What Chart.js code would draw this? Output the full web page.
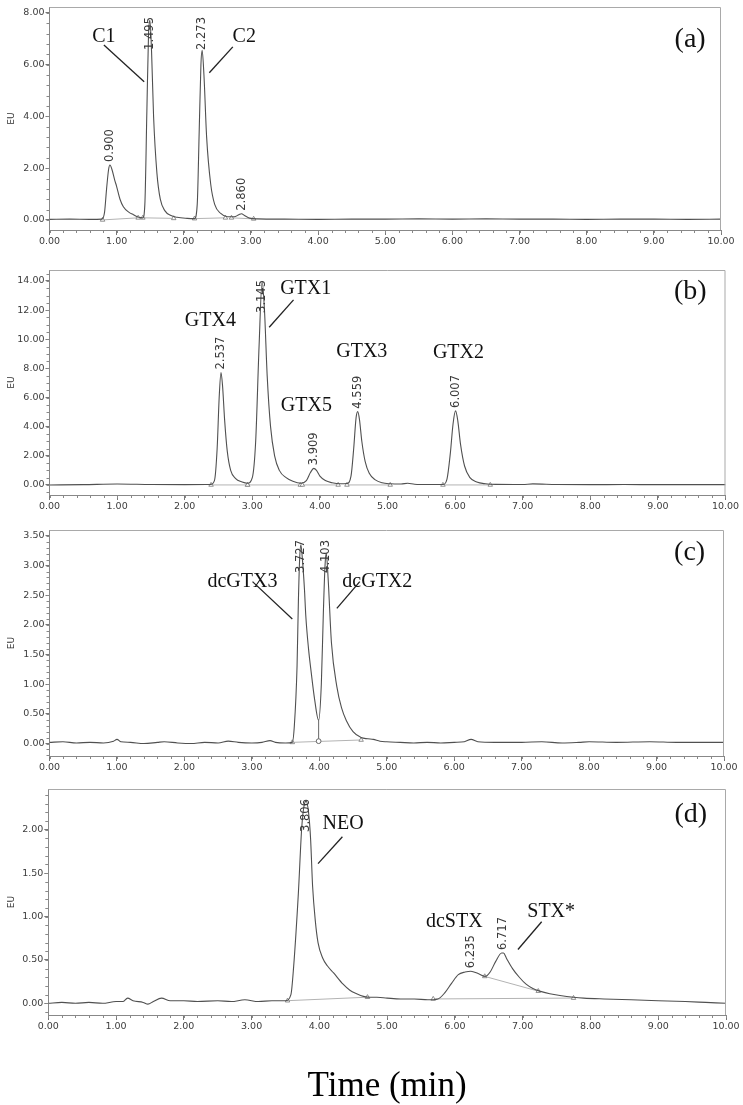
<!DOCTYPE html>
<html>
<head>
<meta charset="utf-8">
<script src="https://cdn.jsdelivr.net/npm/chart.js@4.4.1/dist/chart.umd.min.js"></script>
<style>
  html, body { margin: 0; padding: 0; background: #fff; overflow: hidden; }
  .panel { position: absolute; left: 0; }
</style>
</head>
<body>
<div class="panel" style="top:0px"><canvas id="chartA" width="743" height="255"></canvas></div>
<div class="panel" style="top:255px"><canvas id="chartB" width="743" height="265"></canvas></div>
<div class="panel" style="top:520px"><canvas id="chartC" width="743" height="261"></canvas></div>
<div class="panel" style="top:780px"><canvas id="chartD" width="743" height="328"></canvas></div>
<script>
// x axis (minutes) shared by all four runs
const xTicks = [0, 1, 2, 3, 4, 5, 6, 7, 8, 9, 10];

// (a) C1 / C2 standard
const timeA = [0, 0.3, 0.6, 0.78, 0.82, 0.85, 0.88, 0.9, 0.93, 0.97, 1.0, 1.05, 1.1, 1.18, 1.25, 1.33, 1.39,
  1.42, 1.45, 1.475, 1.495, 1.52, 1.55, 1.6, 1.65, 1.72, 1.8, 1.9, 2.05, 2.16,
  2.2, 2.23, 2.255, 2.273, 2.3, 2.34, 2.4, 2.46, 2.55, 2.65, 2.75, 2.82, 2.86, 2.9, 2.98, 3.1,
  3.5, 4.0, 4.5, 5.0, 5.5, 6.0, 6.5, 7.0, 7.5, 8.0, 8.5, 9.0, 9.5, 10];
const euA = [0.02, 0.03, 0.02, 0.03, 0.3, 1.2, 1.95, 2.12, 1.95, 1.55, 1.29, 0.8, 0.51, 0.3, 0.2, 0.1, 0.08,
  0.6, 4.2, 7.2, 7.72, 6.5, 4.0, 1.8, 0.8, 0.35, 0.18, 0.1, 0.06, 0.05,
  0.6, 3.5, 6.0, 6.56, 5.6, 3.2, 1.4, 0.6, 0.25, 0.12, 0.12, 0.2, 0.24, 0.18, 0.07, 0.04,
  0.03, 0.02, 0.03, 0.03, 0.04, 0.03, 0.04, 0.03, 0.03, 0.02, 0.03, 0.03, 0.02, 0.03];
const yTicksA = [0, 2, 4, 6, 8];
const peakTimesA = [0.900, 1.495, 2.273, 2.860];
const peakHeightsA = [2.12, 7.72, 6.56, 0.24];
const baseSegA = [[0.79, 0.0, 1.32, 0.08], [1.39, 0.08, 1.85, 0.06], [2.16, 0.05, 2.62, 0.08], [2.71, 0.08, 3.04, 0.04]];
const namesA = ['C1', 'C2'];
const nameXA = [0.81, 2.90];
const nameYA = [6.88, 6.88];
const leadersA = [[0.81, 6.76, 1.41, 5.34], [2.73, 6.69, 2.38, 5.69]];

// (b) GTX standard
const timeB = [0, 0.5, 1.0, 1.5, 2.0, 2.38, 2.44, 2.48, 2.51, 2.537, 2.56, 2.59, 2.63, 2.68, 2.75, 2.85, 2.93,
  3.0, 3.05, 3.1, 3.145, 3.18, 3.22, 3.27, 3.33, 3.4, 3.5, 3.6, 3.72,
  3.8, 3.86, 3.909, 3.95, 4.0, 4.08, 4.18, 4.3, 4.4,
  4.46, 4.5, 4.535, 4.559, 4.585, 4.62, 4.67, 4.73, 4.82, 4.92, 5.04, 5.2, 5.3, 5.4, 5.6, 5.82,
  5.88, 5.93, 5.97, 6.007, 6.04, 6.08, 6.14, 6.22, 6.32, 6.45, 6.6, 7.0, 7.15, 7.5, 8.0, 8.5, 9.0, 9.5, 10];
const euB = [0.0, 0.02, 0.06, 0.03, 0.02, 0.03, 0.3, 2.5, 6.0, 7.71, 6.8, 4.5, 2.3, 1.0, 0.45, 0.2, 0.12,
  0.5, 3.0, 9.5, 13.95, 12.0, 7.5, 4.0, 2.0, 1.0, 0.5, 0.25, 0.12,
  0.3, 0.85, 1.14, 1.0, 0.6, 0.3, 0.15, 0.08, 0.1,
  0.6, 2.5, 4.6, 5.03, 4.5, 3.0, 1.6, 0.8, 0.35, 0.15, 0.08, 0.06, 0.12, 0.05, 0.03, 0.03,
  0.4, 2.2, 4.2, 5.08, 4.4, 2.8, 1.3, 0.5, 0.2, 0.08, 0.04, 0.03, 0.07, 0.03, 0.02, 0.03, 0.02, 0.02, 0.02];
const yTicksB = [0, 2, 4, 6, 8, 10, 12, 14];
const peakTimesB = [2.537, 3.145, 3.909, 4.559, 6.007];
const peakHeightsB = [7.71, 13.95, 1.14, 5.03, 5.08];
const baseSegB = [[2.39, 0.0, 2.93, 0.0], [2.93, 0.0, 3.71, 0.0], [3.74, 0.0, 4.27, 0.0], [4.40, 0.0, 5.04, 0.0], [5.82, 0.0, 6.52, 0.0]];
const namesB = ['GTX4', 'GTX1', 'GTX5', 'GTX3', 'GTX2'];
const nameXB = [2.38, 3.79, 3.80, 4.62, 6.05];
const nameYB = [10.9, 13.09, 5.08, 8.76, 8.70];
const leadersB = [[3.61, 12.7, 3.25, 10.82]];

// (c) dcGTX standard
const timeC = [0, 0.2, 0.4, 0.6, 0.8, 0.95, 1.0, 1.06, 1.2, 1.4, 1.6, 1.7, 1.9, 2.1, 2.3, 2.5, 2.65, 2.8, 3.0, 3.15, 3.27, 3.35, 3.5, 3.6,
  3.63, 3.67, 3.69, 3.71, 3.727, 3.75, 3.78, 3.80, 3.84, 3.88, 3.93, 3.99,
  4.03, 4.06, 4.085, 4.103, 4.13, 4.18, 4.26, 4.33, 4.4, 4.5, 4.62, 4.72, 4.8, 4.9, 5.0,
  5.2, 5.4, 5.6, 5.8, 6.0, 6.15, 6.25, 6.35, 6.6, 7.0, 7.3, 7.6, 7.85, 8.0, 8.4, 8.9, 9.3, 9.7, 10];
const euC = [0.02, 0.03, 0.01, 0.02, 0.01, 0.04, 0.07, 0.03, 0.02, 0.0, 0.02, 0.03, 0.01, 0.0, 0.02, 0.01, 0.04, 0.02, 0.01, 0.02, 0.05, 0.02, 0.01, 0.02,
  0.3, 1.3, 2.4, 3.15, 3.35, 3.1, 2.6, 2.15, 1.6, 1.2, 0.75, 0.39,
  1.0, 2.2, 3.0, 3.21, 2.8, 1.7, 0.96, 0.6, 0.39, 0.2, 0.1, 0.08, 0.07, 0.04, 0.03,
  0.02, 0.01, 0.02, 0.01, 0.02, 0.03, 0.07, 0.03, 0.02, 0.02, 0.03, 0.01, 0.02, 0.03, 0.02, 0.03, 0.02, 0.02, 0.02];
const yTicksC = [0, 0.5, 1, 1.5, 2, 2.5, 3, 3.5];
const peakTimesC = [3.727, 4.103];
const peakHeightsC = [3.35, 3.21];
const baseSegC = [[3.60, 0.02, 4.62, 0.06]];
const dropC = [3.99, 0.04, 3.99, 0.39];
const namesC = ['dcGTX3', 'dcGTX2'];
const nameXC = [2.86, 4.86];
const nameYC = [2.64, 2.64];
const leadersC = [[3.01, 2.73, 3.60, 2.10], [4.60, 2.73, 4.26, 2.28]];

// (d) sample
const timeD = [0, 0.2, 0.4, 0.6, 0.8, 1.0, 1.1, 1.17, 1.25, 1.4, 1.47, 1.55, 1.67, 1.8, 2.0, 2.2, 2.5, 2.7, 2.9, 3.1, 3.3, 3.5,
  3.58, 3.62, 3.69, 3.74, 3.78, 3.806, 3.84, 3.87, 3.9, 3.94, 3.98, 4.05, 4.12, 4.21, 4.35, 4.45, 4.55, 4.65, 4.75, 4.85, 5.0,
  5.2, 5.4, 5.6, 5.75, 5.85, 5.95, 6.05, 6.15, 6.235, 6.35, 6.45, 6.52, 6.6, 6.69, 6.717, 6.76, 6.85, 6.95, 7.05, 7.15, 7.25,
  7.4, 7.55, 7.75, 7.9, 8.2, 8.6, 9.0, 9.4, 9.7, 10];
const euD = [0.0, 0.01, 0.0, 0.01, 0.0, 0.02, 0.02, 0.06, 0.03, 0.01, -0.01, 0.02, 0.06, 0.03, 0.03, 0.02, 0.03, 0.02, 0.04, 0.02, 0.03, 0.03,
  0.1, 0.42, 1.27, 2.03, 2.3, 2.33, 2.2, 1.9, 1.35, 0.95, 0.7, 0.52, 0.43, 0.35, 0.22, 0.15, 0.11, 0.08, 0.07, 0.07, 0.06,
  0.05, 0.05, 0.04, 0.05, 0.12, 0.23, 0.33, 0.36, 0.37, 0.34, 0.31, 0.36, 0.48, 0.58, 0.58, 0.52, 0.4, 0.3, 0.22, 0.17, 0.14,
  0.11, 0.09, 0.07, 0.06, 0.05, 0.04, 0.03, 0.02, 0.01, 0.0];
const yTicksD = [0, 0.5, 1, 1.5, 2];
const peakTimesD = [3.806, 6.235, 6.717];
const peakHeightsD = [2.33, 0.37, 0.58];
const baseSegD = [[3.53, 0.03, 4.71, 0.07], [5.68, 0.05, 7.75, 0.06], [6.44, 0.31, 7.23, 0.14]];
const namesD = ['NEO', 'dcSTX', 'STX*'];
const nameXD = [4.35, 5.99, 7.42];
const nameYD = [2.01, 0.88, 0.99];
const leadersD = [[4.34, 1.92, 3.98, 1.61], [7.28, 0.94, 6.93, 0.62]];

const tickFont = { family: 'DejaVu Sans', size: 9.5 };
const tickColor = '#3c3c3c';

// frame, minor ticks, peak times, compound names and leader lines
const annotate = {
  id: 'annotate',
  afterDatasetsDraw(chart, args, opts) {
    const { ctx, chartArea: area, scales: { x, y } } = chart;
    ctx.save();
    ctx.strokeStyle = '#a9a9a9';
    ctx.lineWidth = 1;
    ctx.beginPath();
    ctx.moveTo(area.left, area.top + 0.5);
    ctx.lineTo(area.right - 0.5, area.top + 0.5);
    ctx.lineTo(area.right - 0.5, area.bottom);
    ctx.stroke();

    // minor ticks
    ctx.strokeStyle = '#888';
    ctx.beginPath();
    for (let v = 0; v <= 10.001; v += 0.2) {
      const px = Math.round(x.getPixelForValue(v)) + 0.5;
      ctx.moveTo(px, area.bottom);
      ctx.lineTo(px, area.bottom + 3);
    }
    const st = opts.minorY;
    for (let v = Math.ceil(y.min / st) * st; v <= y.max; v += st) {
      const py = Math.round(y.getPixelForValue(v)) + 0.5;
      ctx.moveTo(area.left - 3, py);
      ctx.lineTo(area.left, py);
    }
    ctx.stroke();

    // retention time labels
    ctx.font = '11.5px "DejaVu Sans"';
    ctx.fillStyle = '#3a3a3a';
    ctx.textAlign = 'left';
    ctx.textBaseline = 'middle';
    opts.peakTimes.forEach((t, i) => {
      const label = t.toFixed(3);
      const w = ctx.measureText(label).width;
      let yb = y.getPixelForValue(opts.peakHeights[i]) - 3;
      if (yb - w < area.top + 10) yb = area.top + 10 + w;
      ctx.save();
      ctx.translate(x.getPixelForValue(t), yb);
      ctx.rotate(-Math.PI / 2);
      ctx.fillText(label, 0, 0);
      ctx.restore();
    });

    // compound names
    ctx.fillStyle = '#111';
    ctx.textAlign = 'center';
    ctx.textBaseline = 'alphabetic';
    ctx.font = '20px "Liberation Serif"';
    opts.names.forEach((n, i) => {
      ctx.fillText(n, x.getPixelForValue(opts.nameX[i]), y.getPixelForValue(opts.nameY[i]));
    });
    ctx.strokeStyle = '#222';
    ctx.lineWidth = 1.3;
    opts.leaders.forEach(l => {
      ctx.beginPath();
      ctx.moveTo(x.getPixelForValue(l[0]), y.getPixelForValue(l[1]));
      ctx.lineTo(x.getPixelForValue(l[2]), y.getPixelForValue(l[3]));
      ctx.stroke();
    });

    // panel letter
    ctx.font = '28px "Liberation Serif"';
    ctx.textBaseline = 'middle';
    ctx.fillText(opts.letter[0], x.getPixelForValue(opts.letter[1]), y.getPixelForValue(opts.letter[2]));
    ctx.restore();
  }
};

function segPoints(segs) {
  const pts = [];
  segs.forEach(s => {
    pts.push({ x: s[0], y: s[1] }, { x: s[2], y: s[3] }, { x: s[2], y: null });
  });
  return pts;
}

function makePanel(id, p) {
  const datasets = [
    {
      data: segPoints(p.baseSeg),
      borderColor: '#b3b3b3',
      borderWidth: 1,
      pointStyle: 'triangle',
      pointRadius: ctx => (ctx.raw && ctx.raw.y !== null ? 2.6 : 0),
      pointBorderColor: '#777',
      pointBorderWidth: 0.8,
      pointBackgroundColor: '#fff',
      spanGaps: false,
      order: 2
    },
    {
      data: p.time.map((t, i) => ({ x: t, y: p.eu[i] })),
      borderColor: '#505050',
      borderWidth: 1.1,
      pointRadius: 0,
      cubicInterpolationMode: 'monotone',
      order: 1
    }
  ];
  if (p.drop) {
    datasets.push({
      data: [{ x: p.drop[0], y: p.drop[1] }, { x: p.drop[2], y: p.drop[3] }],
      borderColor: '#666',
      borderWidth: 1,
      pointStyle: 'circle',
      pointRadius: [2.4, 0],
      pointBorderColor: '#666',
      pointBackgroundColor: '#fff',
      order: 0
    });
  }
  return new Chart(document.getElementById(id), {
    type: 'line',
    data: { datasets },
    options: {
      responsive: false,
      animation: false,
      devicePixelRatio: 1,
      layout: { padding: { top: p.padTop, right: 743 - p.right, left: 0, bottom: 0 } },
      plugins: {
        legend: { display: false },
        tooltip: { enabled: false },
        annotate: {
          minorY: p.minorY, peakTimes: p.peakTimes, peakHeights: p.peakHeights,
          names: p.names, nameX: p.nameX, nameY: p.nameY, leaders: p.leaders, letter: p.letter
        }
      },
      scales: {
        x: {
          type: 'linear', min: 0, max: 10,
          afterBuildTicks: ax => { ax.ticks = xTicks.map(v => ({ value: v })); },
          afterFit: ax => { ax.height = p.xHeight; },
          ticks: { callback: v => Number(v).toFixed(2), font: tickFont, color: tickColor, padding: 1, maxRotation: 0, autoSkip: false },
          grid: { drawOnChartArea: false, tickLength: 5, tickColor: '#777' },
          border: { color: '#888' },
          title: p.xTitle ? {
            display: true, text: 'Time (min)', color: '#000',
            font: { family: 'Liberation Serif', size: 35, weight: 'normal' },
            padding: { top: 0, bottom: 0 }
          } : { display: false }
        },
        y: {
          type: 'linear', min: p.yMin, max: p.yMax,
          afterBuildTicks: ax => { ax.ticks = p.yTicks.map(v => ({ value: v })); },
          afterFit: ax => { ax.width = p.left; },
          ticks: { callback: v => Number(v).toFixed(2), font: tickFont, color: tickColor, padding: 1 },
          grid: { drawOnChartArea: false, tickLength: 4, tickColor: '#777' },
          border: { color: '#888' },
          title: { display: true, text: 'EU', color: '#333', font: { family: 'DejaVu Sans', size: 9 }, padding: { top: 6, bottom: 0 } }
        }
      }
    },
    plugins: [annotate]
  });
}

makePanel('chartA', {
  time: timeA, eu: euA, yTicks: yTicksA, yMin: -0.39, yMax: 8.23, minorY: 0.4,
  peakTimes: peakTimesA, peakHeights: peakHeightsA, baseSeg: baseSegA,
  names: namesA, nameX: nameXA, nameY: nameYA, leaders: leadersA, letter: ['(a)', 9.54, 6.95],
  padTop: 7, right: 721, left: 49.5, xHeight: 25
});
makePanel('chartB', {
  time: timeB, eu: euB, yTicks: yTicksB, yMin: -0.69, yMax: 14.75, minorY: 0.5,
  peakTimes: peakTimesB, peakHeights: peakHeightsB, baseSeg: baseSegB,
  names: namesB, nameX: nameXB, nameY: nameYB, leaders: leadersB, letter: ['(b)', 9.48, 13.25],
  padTop: 15, right: 725.5, left: 49.5, xHeight: 25
});
makePanel('chartC', {
  time: timeC, eu: euC, yTicks: yTicksC, yMin: -0.21, yMax: 3.6, minorY: 0.1,
  peakTimes: peakTimesC, peakHeights: peakHeightsC, baseSeg: baseSegC, drop: dropC,
  names: namesC, nameX: nameXC, nameY: nameYC, leaders: leadersC, letter: ['(c)', 9.49, 3.22],
  padTop: 10, right: 724, left: 49.5, xHeight: 25
});
makePanel('chartD', {
  time: timeD, eu: euD, yTicks: yTicksD, yMin: -0.135, yMax: 2.47, minorY: 0.1,
  peakTimes: peakTimesD, peakHeights: peakHeightsD, baseSeg: baseSegD,
  names: namesD, nameX: nameXD, nameY: nameYD, leaders: leadersD, letter: ['(d)', 9.48, 2.18],
  padTop: 9, right: 726, left: 48.3, xHeight: 93, xTitle: true
});
</script>
</body>
</html>
